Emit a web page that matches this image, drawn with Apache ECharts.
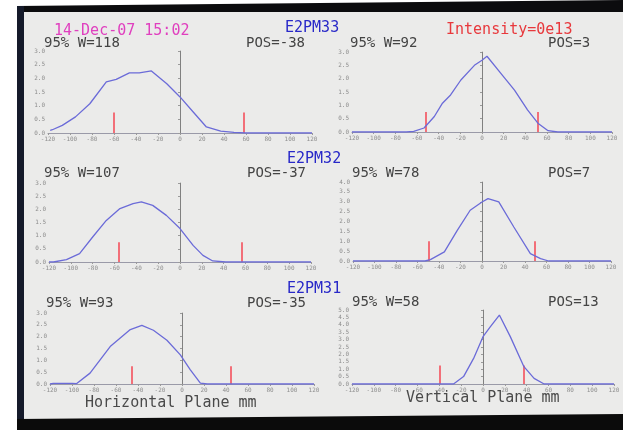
<!DOCTYPE html>
<html><head><meta charset="utf-8">
<script src="https://cdn.jsdelivr.net/npm/echarts@6/dist/echarts.min.js"></script>
<style>html,body{margin:0;padding:0;background:#fff}#c{width:623px;height:430px}</style>
</head><body><div id="c"></div>
<script>
// Beam profile monitors: horizontal (left) and vertical (right) planes, mm
const h33Pos = [-118,-116,-107,-95,-82,-67,-58,-46,-37,-26,-12,0,12,24,37,49,60,120];
const h33Val = [0.1,0.12,0.28,0.59,1.07,1.87,1.96,2.2,2.2,2.27,1.8,1.32,0.77,0.22,0.07,0.02,0,0];
const v33Pos = [-120,-70,-63,-53.5,-44,-36.5,-29,-19.5,-7,0,4.6,17.6,30,42,51.6,61,70,120];
const v33Val = [0,0,0.02,0.15,0.58,1.08,1.39,1.95,2.5,2.69,2.84,2.19,1.57,0.83,0.33,0.05,0,0];
const h32Pos = [-120,-116,-104,-92,-80,-67.5,-55,-43,-35.4,-25,-12.5,0,12,21,30,42,120];
const h32Val = [0,0,0.09,0.32,0.95,1.58,2.03,2.22,2.28,2.15,1.77,1.27,0.63,0.25,0.04,0,0];
const v32Pos = [-120,-53,-48,-35,-23,-11,0,5.6,15.6,29.6,45,54.5,62,120];
const v32Val = [0,0,0.07,0.46,1.55,2.57,2.99,3.16,2.99,1.72,0.37,0.12,0,0];
const h31Pos = [-120,-117,-100,-95.7,-83.6,-65.3,-47,-36.5,-26,-13.7,-1.5,7.6,16.7,23,120];
const h31Val = [0,0.03,0.03,0.02,0.46,1.58,2.3,2.48,2.27,1.85,1.23,0.6,0.04,0,0];
const v31Pos = [-120,-27,-17.8,-8.6,0,6.8,15,25,37.5,46.8,56,120];
const v31Val = [0,0,0.5,1.73,3.2,3.87,4.66,3.2,1.17,0.38,0,0];

// 95% width edges and their marker heights
const edgeLeft  = [-60,-52,-56,-50,-46,-40];
const edgeRight = [58,51,57,49,44,37];
const edgeHeight = [0.75,0.75,0.75,1.0,0.75,1.25];
const yMaxes = [3,3,3,4,3,5];

const widthLabels = ['95% W=118','95% W=92','95% W=107','95% W=78','95% W=93','95% W=58'];
const posLabels = ['POS=-38','POS=3','POS=-37','POS=7','POS=-35','POS=13'];
const monitorNames = ['E2PM33','E2PM32','E2PM31'];
const stamp = '14-Dec-07 15:02';
const intensity = 'Intensity=0e13';
const planeTitles = ['Horizontal Plane mm','Vertical Plane mm'];

const profiles = [
  [h33Pos,h33Val],[v33Pos,v33Val],
  [h32Pos,h32Val],[v32Pos,v32Val],
  [h31Pos,h31Val],[v31Pos,v31Val]
];

// panel frames in pixels
const frames = [
  {left:48,top:51,width:264,height:82},
  {left:352,top:52,width:260,height:80},
  {left:49,top:183,width:262,height:79},
  {left:353,top:182,width:258,height:79},
  {left:50,top:313,width:264,height:71},
  {left:352,top:310,width:262,height:74}
];
const textRows = [{width:{x:44,y:43},pos:{x:246,y:43},wR:{x:350,y:43},pR:{x:548,y:43}},
                  {width:{x:44,y:173},pos:{x:247,y:173},wR:{x:352,y:173},pR:{x:548,y:173}},
                  {width:{x:46,y:303},pos:{x:247,y:303},wR:{x:352,y:302},pR:{x:548,y:302}}];
const nameSpots = [{x:285,y:28},{x:287,y:159},{x:287,y:289}];

const MONO = '"DejaVu Sans Mono", "Liberation Mono", monospace';
const lineBlue = '#6b6bd8';
const tickGray = '#8e8e8e';
const screenGray = '#ebebea';

const grids = [], xAxes = [], yAxes = [], series = [];
frames.forEach((f, i) => {
  grids.push(Object.assign({}, f));
  xAxes.push({
    type:'value', gridIndex:i, min:-120, max:120, interval:20,
    axisLine:{lineStyle:{color:'#9a9aa8',width:1}},
    axisTick:{show:true,length:2,lineStyle:{color:'#9a9a9a'}},
    splitLine:{show:false},
    axisLabel:{fontSize:6,color:tickGray,fontFamily:MONO,margin:3,showMinLabel:true,showMaxLabel:true}
  });
  yAxes.push({
    type:'value', gridIndex:i, min:0, max:yMaxes[i], interval:0.5,
    axisLine:{show:true,lineStyle:{color:'#9a9a9a',width:1}},
    axisTick:{show:true,length:2,lineStyle:{color:'#9a9a9a'}},
    splitLine:{show:false},
    axisLabel:{fontSize:6,color:tickGray,fontFamily:MONO,margin:3,formatter:v=>v.toFixed(1)}
  });
  const [xs, ys] = profiles[i];
  // centre line at x = 0
  series.push({
    type:'lines', coordinateSystem:'cartesian2d', xAxisIndex:i, yAxisIndex:i, silent:true, z:2,
    lineStyle:{color:'#808080',width:1,opacity:1},
    data:[{coords:[[0,0],[0,yMaxes[i]]]}]
  });
  // 95% width edge markers
  series.push({
    type:'lines', coordinateSystem:'cartesian2d', xAxisIndex:i, yAxisIndex:i, silent:true, z:2,
    lineStyle:{color:'#f4505c',width:1.6,opacity:1},
    data:[
      {coords:[[edgeLeft[i],0],[edgeLeft[i],edgeHeight[i]]]},
      {coords:[[edgeRight[i],0],[edgeRight[i],edgeHeight[i]]]}
    ]
  });
  // profile
  series.push({
    type:'line', xAxisIndex:i, yAxisIndex:i, symbol:'none', silent:true, z:3,
    data: xs.map((x,k)=>[x, ys[k]]),
    lineStyle:{color:lineBlue,width:1.3}
  });
});

const txt = (s, x, y, color, size) => ({
  type:'text', x, y, silent:true,
  style:{text:s, fill:color, font:`${size}px ${MONO}`, textVerticalAlign:'middle'}
});

const graphics = [
  // monitor screen and bezel
  {type:'rect', silent:true, z:-10, shape:{x:17,y:6,width:606,height:414}, style:{fill:screenGray}},
  {type:'polygon', silent:true, shape:{points:[[17,6],[623,0],[623,12],[17,12]]}, style:{fill:'#0c0c0e'}},
  {type:'rect', silent:true, shape:{x:17,y:6,width:7,height:424}, style:{fill:'#151a2a'}},
  {type:'polygon', silent:true, shape:{points:[[17,419],[623,414],[623,430],[17,430]]}, style:{fill:'#0b0b0b'}},
  txt(stamp, 54, 31, '#e040bf', 15),
  txt(intensity, 446, 30, '#e8383c', 15),
  txt(planeTitles[0], 85, 403, '#4a4a4a', 15),
  txt(planeTitles[1], 406, 398, '#4a4a4a', 15)
];
monitorNames.forEach((n, r) => graphics.push(txt(n, nameSpots[r].x, nameSpots[r].y, '#2828c8', 15)));
textRows.forEach((row, r) => {
  graphics.push(txt(widthLabels[2*r], row.width.x, row.width.y, '#444444', 14));
  graphics.push(txt(posLabels[2*r], row.pos.x, row.pos.y, '#444444', 14));
  graphics.push(txt(widthLabels[2*r+1], row.wR.x, row.wR.y, '#444444', 14));
  graphics.push(txt(posLabels[2*r+1], row.pR.x, row.pR.y, '#444444', 14));
});

const chart = echarts.init(document.getElementById('c'), null, {renderer:'canvas'});
chart.setOption({
  animation:false,
  backgroundColor:'#ffffff',
  grid:grids, xAxis:xAxes, yAxis:yAxes, series,
  graphic:graphics
});
</script></body></html>
